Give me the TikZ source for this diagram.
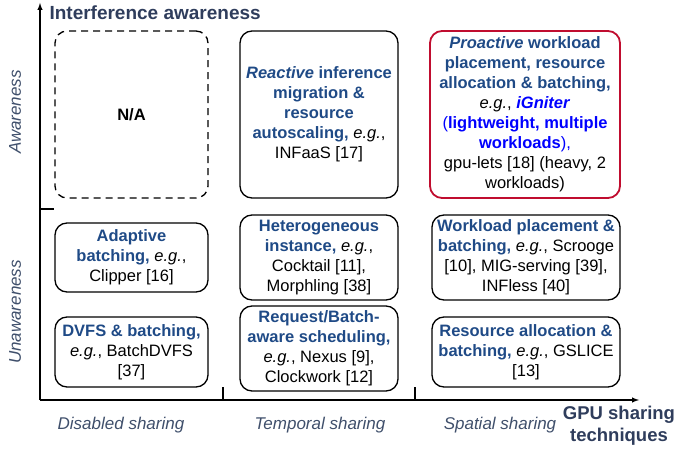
\documentclass[tikz,border=0pt]{standalone}
\usepackage{fontspec}
\setmainfont{Liberation Sans}

\definecolor{titleblue}{HTML}{2F3D5C}
\definecolor{axisgrey}{HTML}{3F4F6B}
\definecolor{keyblue}{HTML}{1F4A86}
\definecolor{namedblue}{HTML}{0000FF}
\definecolor{boxred}{HTML}{C00D2F}

\newcommand{\key}[1]{\textcolor{keyblue}{\textbf{#1}}}
\newcommand{\eg}{\textit{e.g.}}

\tikzset{
    cell/.style={draw, line width=1.3pt, rounded corners=12pt, align=center,
        inner sep=0pt, font=\fontsize{16.5}{20}\selectfont},
    axis/.style={line width=1.4pt},
    sidelabel/.style={text=axisgrey, font=\fontsize{17}{19}\selectfont\itshape, rotate=90},
    sharelabel/.style={text=axisgrey, font=\fontsize{17}{19}\selectfont\itshape},
}

\begin{document}
\begin{tikzpicture}[x=1pt, y=-1pt]
        \useasboundingbox (0, 0) rectangle (678, 449);

        % axes
        \coordinate (origin) at (40, 400);
        \coordinate (ytop) at (40, 3);
        \coordinate (xend) at (639, 400);
        \draw[axis, -latex] (origin) -- (ytop);
        \draw[axis, -latex] (origin) -- (xend);
        \draw[axis] (40, 209) -- (54, 209);
        \draw[axis] (223, 387) -- (223, 400);
        \draw[axis] (415, 387) -- (415, 400);

        \node[anchor=west, text=titleblue, font=\fontsize{19}{22}\selectfont\bfseries] (ytitle) at (46, 13) {Interference awareness};
        \node[sidelabel] (aware) at (15, 112) {Awareness};
        \node[sidelabel] (unaware) at (15, 312) {Unawareness};

        \node[sharelabel] (disabled) at (121, 425) {Disabled sharing};
        \node[sharelabel] (temporal) at (320, 425) {Temporal sharing};
        \node[sharelabel] (spatial) at (500, 425) {Spatial sharing};
        \node[align=center, text=titleblue, font=\fontsize{18.5}{22}\selectfont\bfseries] (xtitle) at (619, 426) {GPU sharing\\techniques};

        % awareness row
        \node[cell, dash pattern=on 7pt off 5pt, minimum width=153, minimum height=167] (na) at (131.5, 114.5) {\textbf{N/A}};
        \node[cell, minimum width=158, minimum height=167] (reactive) at (319, 114.5) {
            \key{\textit{Reactive} inference}\\
            \key{migration \&}\\
            \key{resource}\\
            \key{autoscaling,} \eg,\\
            INFaaS [17]};
        \node[cell, draw=boxred, line width=1.8pt, minimum width=190, minimum height=167] (proactive) at (525, 114.5) {
            \key{\textit{Proactive} workload}\\
            \key{placement, resource}\\
            \key{allocation \& batching,}\\
            \eg, \textcolor{namedblue}{\textbf{\textit{iGniter}}}\\
            \textcolor{namedblue}{(\textbf{lightweight, multiple}}\\
            \textcolor{namedblue}{\textbf{workloads}),}\\
            gpu-lets [18] (heavy, 2\\
            workloads)};

        % unawareness row
        \node[cell, minimum width=153, minimum height=69] (adaptive) at (131.5, 257.5) {
            \key{Adaptive}\\
            \key{batching,} \eg,\\
            Clipper [16]};
        \node[cell, minimum width=153, minimum height=70] (dvfs) at (131.5, 352) {
            \key{DVFS \& batching,}\\
            \eg, BatchDVFS\\
            {[37]}};
        \node[cell, minimum width=158, minimum height=85] (hetero) at (319, 257.5) {
            \key{Heterogeneous}\\
            \key{instance,} \eg,\\
            Cocktail [11],\\
            Morphling [38]};
        \node[cell, minimum width=158, minimum height=85] (request) at (319, 348.5) {
            \key{Request/Batch-}\\
            \key{aware scheduling,}\\
            \eg, Nexus [9],\\
            Clockwork [12]};
        \node[cell, minimum width=188, minimum height=85] (placement) at (526, 257.5) {
            \key{Workload placement \&}\\
            \key{batching,} \eg, Scrooge\\
            {[10]}, MIG-serving [39],\\
            INFless [40]};
        \node[cell, minimum width=188, minimum height=70] (allocation) at (526, 352) {
            \key{Resource allocation \&}\\
            \key{batching,} \eg, GSLICE\\
            {[13]}};
\end{tikzpicture}
\end{document}
